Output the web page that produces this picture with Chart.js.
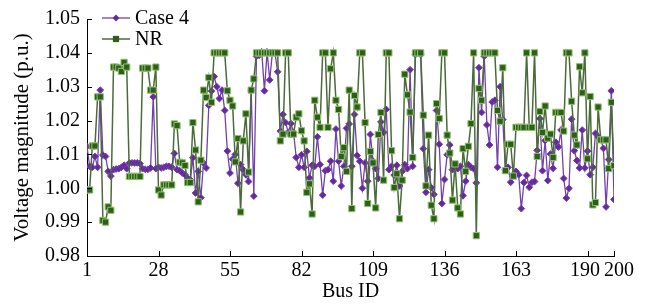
<!DOCTYPE html>
<html>
<head>
<meta charset="utf-8">
<title>Voltage magnitude by bus</title>
<script src="https://cdn.jsdelivr.net/npm/chart.js@4.4.0/dist/chart.umd.min.js"></script>
<style>
  html, body { margin: 0; background: #fff; }
  #wrap { width: 649px; height: 306px; }
</style>
</head>
<body>
<div id="wrap"><canvas id="myChart" width="649" height="306"></canvas></div>
<script>
// bus numbers 1..200
const busIds = Array.from({ length: 200 }, (_, i) => i + 1);

const xTicks = [1, 28, 55, 82, 109, 136, 163, 190, 200];

// Case 4
const case4 = [
  1.0123, 1.0065, 1.0062, 1.0094, 1.0062, 1.029, 1.0098, 1.0094, 1.005, 1.0036,
  1.0055, 1.0057, 1.0058, 1.0062, 1.0068, 1.0058, 1.0075, 1.0075, 1.0075, 1.0075,
  1.0073, 1.0058, 1.0056, 1.0056, 1.006, 1.027, 1.0058, 1.0062, 1.006, 1.0062,
  1.0065, 1.0065, 1.0062, 1.0103, 1.0055, 1.0052, 1.0045, 1.004, 1.003, 1.0025,
  1.009, 0.9986, 1.005, 0.9972, 1.0075, 1.006, 1.0245, 1.0287, 1.033, 1.03,
  1.0265, 1.029, 1.023, 1.011, 1.0045, 1.0086, 1.01, 1.0015, 1.007, 1.0055,
  1.004, 1.002, 1.029, 0.9977, 1.039, 1.0393, 1.0403, 1.0288, 1.0403, 1.032,
  1.04, 1.0398, 1.0344, 1.0169, 1.0218, 1.0194, 1.0165, 1.0191, 1.0165, 1.0091,
  1.0062, 1.0099, 1.0062, 1.0109, 1.0031, 1.0068, 1.0065, 1.0152, 1.007, 0.998,
  1.0052, 1.0055, 1.008, 1.0021, 1.0175, 1.008, 1.0007, 1.0065, 1.0177, 1.019,
  1.0065, 1.0218, 1.0097, 1.008, 1.0, 1.0075, 1.0021, 1.0159, 1.008, 1.0058,
  1.0029, 1.0196, 1.0165, 1.0233, 1.0055, 1.0065, 1.0039, 1.0068, 1.0007, 1.005,
  1.007, 1.0058, 1.035, 1.0065, 1.0395, 1.04, 1.0395, 1.0117, 0.9988, 1.0055,
  1.0002, 0.9982, 1.023, 1.013, 0.9955, 1.0026, 1.0099, 1.0128, 1.0055, 1.0058,
  1.0058, 1.0065, 0.9978, 1.0021, 1.007, 1.0062, 1.0058, 1.0016, 1.0356, 1.0224,
  1.039, 1.0187, 1.0128, 1.0255, 1.026, 1.0062, 1.03, 1.0203, 1.0055, 1.0062,
  1.0018, 1.004, 1.005, 1.004, 0.994, 1.0017, 1.0038, 1.0003, 1.0018, 1.002,
  1.0112, 1.0206, 1.0052, 1.0141, 1.0023, 1.0101, 1.0059, 1.0136, 1.0122, 1.0172,
  1.0029, 0.9971, 1.0, 1.0204, 1.0111, 1.0082, 1.006, 1.0172, 1.006, 1.011,
  1.004, 1.0062, 1.0162, 1.0152, 1.0145, 1.0118, 0.9945, 1.0085, 1.0288, 0.9967,
];

// NR
const nr = [
  0.9995, 0.9995, 1.0125, 1.0125, 1.027, 1.027, 0.9905, 0.99, 0.9945, 0.9935,
  1.0358, 1.0358, 1.0355, 1.0345, 1.0372, 1.0358, 1.0035, 1.0035, 1.0035, 1.0035,
  1.0035, 1.0355, 1.0355, 1.0355, 1.029, 1.029, 1.0358, 0.9995, 0.998, 1.001,
  1.001, 1.001, 1.001, 1.019, 1.0185, 1.0077, 1.0075, 1.0067, 1.0017, 1.0017,
  1.0194, 1.0113, 0.996, 1.0083, 1.029, 1.0268, 1.0327, 1.0254, 1.04, 1.04,
  1.04, 1.04, 1.04, 1.0288, 1.026, 1.0243, 1.0078, 1.0147, 0.993, 1.014,
  1.022, 1.0048, 1.029, 1.0323, 1.04, 1.04, 1.04, 1.04, 1.04, 1.04,
  1.04, 1.04, 1.04, 1.014, 1.016, 1.04, 1.04, 1.016, 1.016, 1.021,
  1.022, 1.017, 1.014, 0.9988, 1.0013, 0.9924, 1.026, 1.021, 1.018, 1.04,
  1.04, 1.018, 1.0353, 1.04, 1.026, 1.0233, 1.0094, 1.012, 1.005, 1.029,
  0.994, 1.0274, 1.024, 1.04, 1.04, 1.0194, 0.9955, 1.0109, 1.0075, 0.9942,
  1.0159, 1.0224, 1.0024, 1.04, 1.04, 1.0111, 1.0002, 1.0043, 0.991, 1.0024,
  1.0337, 1.0276, 1.0225, 1.0091, 1.04, 1.04, 1.04, 1.0216, 1.0007, 1.0157,
  0.995, 0.991, 1.025, 1.0206, 1.04, 1.04, 1.0157, 1.0104, 0.9965, 1.0072,
  0.9942, 0.9924, 1.0117, 1.005, 1.0124, 1.0191, 1.04, 0.986, 1.0295, 1.026,
  1.04, 1.04, 1.04, 1.04, 1.04, 1.023, 1.0198, 1.0356, 1.0052, 1.013,
  1.013, 1.0036, 1.018, 1.018, 1.018, 1.018, 1.04, 1.018, 1.018, 1.04,
  1.0094, 1.0227, 1.0165, 1.0243, 1.0148, 1.016, 1.0091, 1.0224, 1.0224, 1.0224,
  1.0169, 1.04, 1.04, 1.0257, 1.0157, 1.0128, 1.0359, 1.0282, 1.04, 1.0087,
  1.0271, 0.9951, 0.9958, 1.024, 1.0143, 1.0143, 1.0143, 1.0058, 1.0254, 1.0067,
];

const serif = "'Liberation Serif', 'DejaVu Serif', serif";

// tick marks drawn inside the plot, like the original figure
const inwardTicks = {
  id: "inwardTicks",
  afterDraw(chart) {
    const { ctx, chartArea, scales } = chart;
    ctx.save();
    ctx.strokeStyle = "#000";
    ctx.lineWidth = 1;
    ctx.beginPath();
    scales.x.ticks.forEach((t) => {
      const px = Math.round(scales.x.getPixelForValue(t.value)) + 0.5;
      ctx.moveTo(px, chartArea.bottom);
      ctx.lineTo(px, chartArea.bottom - 5);
    });
    scales.y.ticks.forEach((t) => {
      const py = Math.round(scales.y.getPixelForValue(t.value)) + 0.5;
      ctx.moveTo(chartArea.left, py);
      ctx.lineTo(chartArea.left + 5, py);
    });
    ctx.stroke();
    ctx.restore();
  },
};

// legend with line + marker sample
const lineLegend = {
  id: "lineLegend",
  afterDraw(chart) {
    const ctx = chart.ctx;
    const x0 = chart.chartArea.left + 15;
    ctx.save();
    chart.data.datasets.forEach((ds, i) => {
      const y = 18 + i * 21;
      ctx.strokeStyle = ds.borderColor;
      ctx.lineWidth = ds.borderWidth;
      ctx.beginPath();
      ctx.moveTo(x0, y);
      ctx.lineTo(x0 + 28, y);
      ctx.stroke();
      ctx.fillStyle = ds.pointBackgroundColor;
      ctx.strokeStyle = ds.pointBorderColor;
      ctx.lineWidth = 1;
      Chart.helpers.drawPoint(ctx, { pointStyle: ds.pointStyle, radius: ds.pointRadius, rotation: 0 }, x0 + 14, y);
      ctx.fillStyle = "#000";
      ctx.font = "20px " + serif;
      ctx.textBaseline = "middle";
      ctx.textAlign = "left";
      ctx.fillText(ds.label, x0 + 33, y + 1);
    });
    ctx.restore();
  },
};

const ctx = document.getElementById("myChart").getContext("2d");
const myChart = new Chart(ctx, {
  type: "line",
  data: {
    datasets: [
      {
        label: "Case 4",
        data: case4.map((v, i) => ({ x: busIds[i], y: v })),
        borderColor: "#7440ae",
        borderWidth: 1.3,
        pointStyle: "rectRot",
        pointRadius: 3.4,
        pointBackgroundColor: "#66299c",
        pointBorderColor: "#7440ae",
        pointBorderWidth: 1,
        tension: 0,
        order: 1,
      },
      {
        label: "NR",
        data: nr.map((v, i) => ({ x: busIds[i], y: v })),
        borderColor: "#4b6b3a",
        borderWidth: 1.5,
        pointStyle: "rect",
        pointRadius: 4.4,
        pointBackgroundColor: "#2f5e1c",
        pointBorderColor: "#8fc46c",
        pointBorderWidth: 1,
        tension: 0,
        order: 0,
      },
    ],
  },
  options: {
    responsive: false,
    animation: false,
    events: [],
    layout: { padding: { left: 0, right: 35, top: 16, bottom: 0 } },
    plugins: {
      legend: { display: false },
      tooltip: { enabled: false },
    },
    scales: {
      x: {
        type: "linear",
        min: 1,
        max: 200,
        afterBuildTicks: (axis) => {
          axis.ticks = xTicks.map((v) => ({ value: v }));
        },
        afterFit: (scale) => {
          scale.height = 50;
        },
        grid: { display: true, drawOnChartArea: false, drawTicks: false },
        border: { display: true, color: "#000", width: 1 },
        ticks: {
          autoSkip: false,
          maxRotation: 0,
          padding: 3,
          color: "#000",
          font: { family: serif, size: 20 },
          // 190 and 200 sit close together: nudge them apart a little
          callback: (v) => (v === 200 ? "  200" : v === 190 ? "190 " : String(v)),
        },
        title: {
          display: true,
          text: "Bus ID",
          color: "#000",
          font: { family: serif, size: 20 },
          padding: { top: 0, bottom: 2 },
        },
      },
      y: {
        min: 0.98,
        max: 1.05,
        afterFit: (scale) => {
          scale.width = 87;
        },
        grid: { display: true, drawOnChartArea: false, drawTicks: false },
        border: { display: true, color: "#000", width: 1 },
        ticks: {
          stepSize: 0.01,
          padding: 7,
          color: "#000",
          font: { family: serif, size: 20 },
          callback: (v) => v.toFixed(2),
        },
        title: {
          display: true,
          text: "Voltage magnitude (p.u.)",
          color: "#000",
          font: { family: serif, size: 21 },
          padding: { top: 10, bottom: 0 },
        },
      },
    },
  },
  plugins: [inwardTicks, lineLegend],
});
</script>
</body>
</html>
